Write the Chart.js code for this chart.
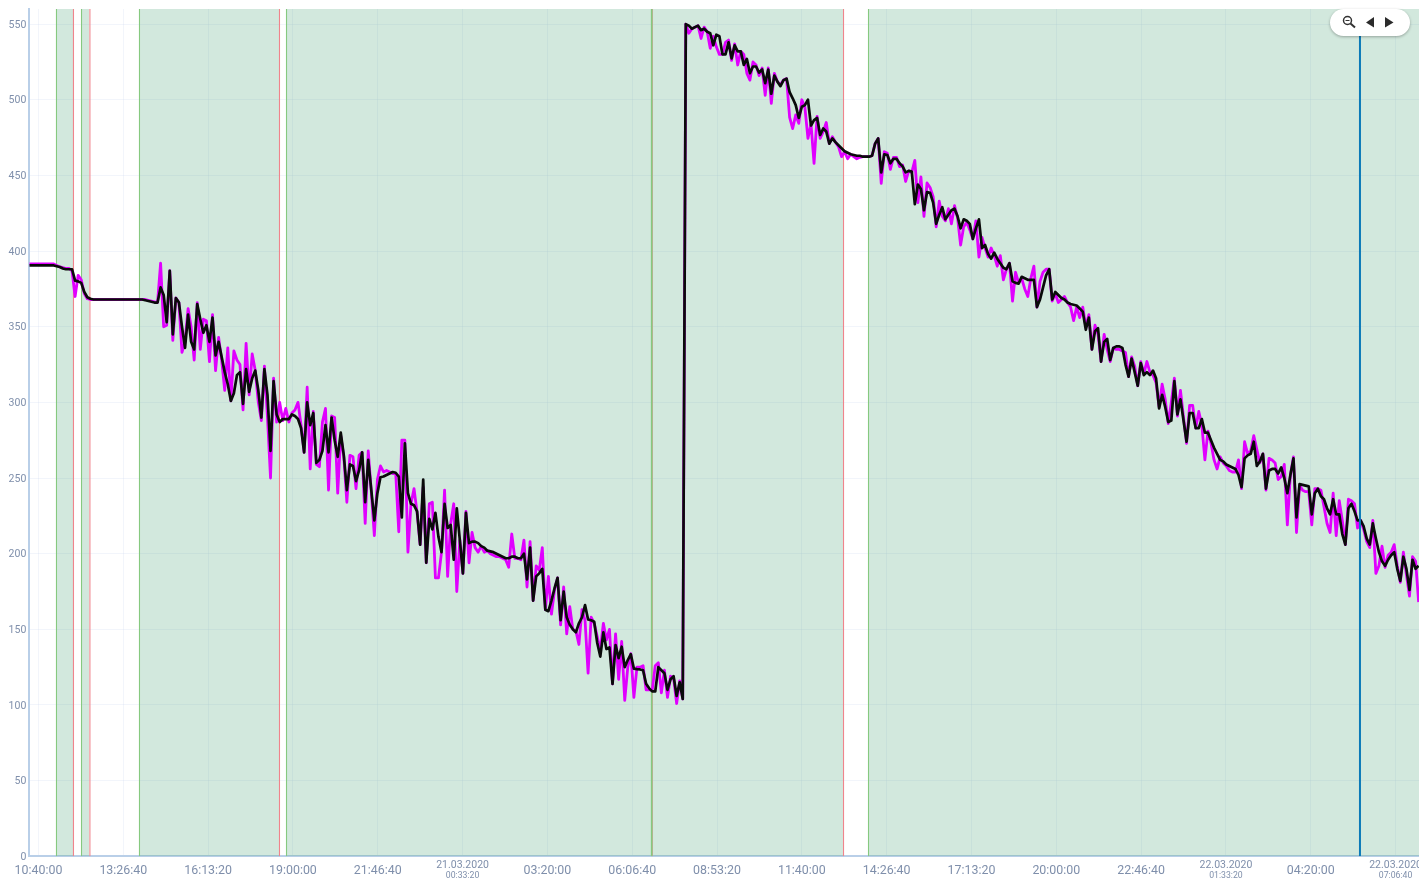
<!DOCTYPE html>
<html lang="en">

<head>
  <meta charset="UTF-8">
  <title>Level over time</title>
  <script src="https://cdnjs.cloudflare.com/ajax/libs/Chart.js/4.4.1/chart.umd.min.js"></script>
  <style>
    * {
      margin: 0;
      padding: 0;
      box-sizing: border-box;
    }

    body {
      background: white;
      overflow: hidden;
    }

    #myChart {
      display: block;
    }

    #zoomBox {
      position: absolute;
      left: 1330px;
      top: 9px;
      width: 80px;
      height: 27px;
      border-radius: 14px;
      background: white;
      box-shadow: 0 1px 3px rgba(0, 0, 0, 0.3);
    }
  </style>
</head>

<body>
  <canvas id="myChart" width="1419" height="881"></canvas>
  <div id="zoomBox">
    <svg width="80" height="27" viewBox="0 0 80 27">
      <circle cx="17.5" cy="11.5" r="4" fill="none" stroke="#333" stroke-width="1.5" />
      <line x1="15.5" y1="11.5" x2="19.5" y2="11.5" stroke="#333" stroke-width="1" />
      <line x1="20.5" y1="14.5" x2="25" y2="18.5" stroke="#333" stroke-width="2" />
      <polygon points="36,13.5 44,8 44,18.5" fill="#2b2b2b" />
      <polygon points="55,8 63.5,13.5 55,18.5" fill="#2b2b2b" />
    </svg>
  </div>

<script>
  // minutes after 10:40:00 on the first day
  var times = [
    -18, -12, -6, 0, 6, 12, 18, 24, 30, 36,
    42, 48, 54, 60, 66, 72, 78, 84, 90, 96,
    102, 108, 114, 120, 126, 132, 138, 144, 150, 156,
    162, 168, 174, 180, 186, 192, 198, 204, 210, 216,
    222, 228, 234, 240, 246, 252, 258, 264, 270, 276,
    282, 288, 294, 300, 306, 312, 318, 324, 330, 336,
    342, 348, 354, 360, 366, 372, 378, 384, 390, 396,
    402, 408, 414, 420, 426, 432, 438, 444, 450, 456,
    462, 468, 474, 480, 486, 492, 498, 504, 510, 516,
    522, 528, 534, 540, 546, 552, 558, 564, 570, 576,
    582, 588, 594, 600, 606, 612, 618, 624, 630, 636,
    642, 648, 654, 660, 666, 672, 678, 684, 690, 696,
    702, 708, 714, 720, 726, 732, 738, 744, 750, 756,
    762, 768, 774, 780, 786, 792, 798, 804, 810, 816,
    822, 828, 834, 840, 846, 852, 858, 864, 870, 876,
    882, 888, 894, 900, 906, 912, 918, 924, 930, 936,
    942, 948, 954, 960, 966, 972, 978, 984, 990, 996,
    1002, 1008, 1014, 1020, 1026, 1032, 1038, 1044, 1050, 1056,
    1062, 1068, 1074, 1080, 1086, 1092, 1098, 1104, 1110, 1116,
    1122, 1128, 1134, 1140, 1146, 1152, 1158, 1164, 1170, 1176,
    1182, 1188, 1194, 1200, 1206, 1212, 1218, 1224, 1230, 1236,
    1242, 1248, 1254, 1260, 1266, 1272, 1278, 1284, 1290, 1296,
    1302, 1308, 1314, 1320, 1326, 1332, 1338, 1344, 1350, 1356,
    1362, 1368, 1374, 1380, 1386, 1392, 1398, 1404, 1410, 1416,
    1422, 1428, 1434, 1440, 1446, 1452, 1458, 1464, 1470, 1476,
    1482, 1488, 1494, 1500, 1506, 1512, 1518, 1524, 1530, 1536,
    1542, 1548, 1554, 1560, 1566, 1572, 1578, 1584, 1590, 1596,
    1602, 1608, 1614, 1620, 1626, 1632, 1638, 1644, 1650, 1656,
    1662, 1668, 1674, 1680, 1686, 1692, 1698, 1704, 1710, 1716,
    1722, 1728, 1734, 1740, 1746, 1752, 1758, 1764, 1770, 1776,
    1782, 1788, 1794, 1800, 1806, 1812, 1818, 1824, 1830, 1836,
    1842, 1848, 1854, 1860, 1866, 1872, 1878, 1884, 1890, 1896,
    1902, 1908, 1914, 1920, 1926, 1932, 1938, 1944, 1950, 1956,
    1962, 1968, 1974, 1980, 1986, 1992, 1998, 2004, 2010, 2016,
    2022, 2028, 2034, 2040, 2046, 2052, 2058, 2064, 2070, 2076,
    2082, 2088, 2094, 2100, 2106, 2112, 2118, 2124, 2130, 2136,
    2142, 2148, 2154, 2160, 2166, 2172, 2178, 2184, 2190, 2196,
    2202, 2208, 2214, 2220, 2226, 2232, 2238, 2244, 2250, 2256,
    2262, 2268, 2274, 2280, 2286, 2292, 2298, 2304, 2310, 2316,
    2322, 2328, 2334, 2340, 2346, 2352, 2358, 2364, 2370, 2376,
    2382, 2388, 2394, 2400, 2406, 2412, 2418, 2424, 2430, 2436,
    2442, 2448, 2454, 2460, 2466, 2472, 2478, 2484, 2490, 2496,
    2502, 2508, 2514, 2520, 2526, 2532, 2538, 2544, 2550, 2556,
    2562, 2568, 2574, 2580, 2586, 2592, 2598, 2604, 2610, 2616,
    2622, 2628, 2634, 2640, 2646, 2652, 2658, 2664, 2670, 2676,
    2682, 2688, 2694, 2700, 2706, 2712
  ];

  var rawValues = [
    391.5, 391.5, 391.5, 391.5, 391.5, 391.5, 391.5, 391.5, 391.5, 390.5,
    389.5, 389, 388.5, 388.5, 387, 370, 384, 381, 372, 368.5,
    368, 368, 368, 368, 368, 368, 368, 368, 368, 368,
    368, 368, 368, 368, 368, 368, 368, 368, 368, 367.5,
    367, 366.5, 366, 392, 350, 351, 387, 341, 369, 366,
    333, 340, 362, 350, 328, 366, 335, 355, 354, 327,
    358, 321, 343, 328, 308, 336, 301, 334, 328, 325,
    295, 339, 305, 332, 321, 300, 288, 324, 290, 250,
    316, 287, 300, 288, 296, 287, 293, 295, 300, 285,
    267, 310, 256, 294, 259, 257.5, 287, 296, 242, 291,
    290, 240, 278, 264, 234, 265, 264, 243, 265, 267,
    220, 268, 241, 212, 249, 258, 254, 255, 254, 253,
    253, 214.5, 275, 275, 201, 233, 243, 227, 206, 244,
    194, 233, 234, 184, 184, 201, 242, 185, 220, 233,
    175, 209, 187, 228, 194, 214, 204, 201, 205, 201,
    202, 200, 199, 198, 198, 197, 196, 191, 213, 197,
    197, 196, 209, 178, 208, 169, 192, 189, 204, 163,
    185, 160, 176, 184, 153, 178, 147, 165, 150, 149,
    140, 163, 156, 121, 158, 154, 145, 136, 154, 143,
    150, 114, 147, 117, 142, 103, 125, 134, 105, 125,
    125, 126, 110, 110, 110, 126, 128, 108, 123, 105,
    119, 118, 101, 116, 104, 550, 544, 547, 548, 549,
    540.5, 548, 545, 534, 542, 535, 530, 530, 538, 539.5,
    526, 537, 523, 532, 530, 517.5, 513, 525, 523, 516,
    521, 503, 521, 497.6, 517.5, 512, 510, 513, 514, 488.4,
    481, 490, 484.4, 500, 495, 474.5, 484, 458, 489, 474.5,
    479, 485, 471, 475.6, 472, 469, 462.4, 465.7, 461, 464,
    462.4, 461, 462, 462.4, 462.4, 462.4, 463, 471, 474.5, 444.7,
    465.7, 464.6, 454, 462, 462, 455.8, 456.9, 446, 453, 452,
    460, 432, 449, 423, 445, 442, 436, 416, 433, 423,
    420, 428, 418, 430, 422, 404, 416, 419, 414, 408,
    420, 396, 409, 402, 396, 402, 397, 390, 397, 381,
    388, 392, 367, 386, 379, 382, 375, 370, 382, 390,
    363, 380, 386, 388, 388, 367, 372, 366, 368, 370,
    366, 363, 354, 363, 356, 363, 350, 358, 335, 351,
    345, 327, 345, 335, 327, 336, 335, 335, 334, 333,
    317, 330, 324, 311, 327, 319, 327, 320, 318, 313,
    297, 312, 302, 286, 300, 316, 291, 308, 290, 273,
    298, 298, 283, 294, 285, 262, 281, 273, 262, 256,
    264, 260, 258, 255, 254, 254, 262, 243, 274, 266,
    268, 278, 269, 260, 266, 242, 263, 262, 260, 249,
    251, 259, 219, 252, 264, 214, 245, 242, 241, 241,
    219, 243, 243, 242, 231, 220, 214, 240, 212, 235,
    222, 206, 236, 235, 233, 217, 222, 216, 208, 204,
    222, 187, 192, 205, 191, 199, 201, 206, 192, 181,
    201, 186, 172, 198, 195, 168
  ];

  var smoothValues = [
    390.5, 390.5, 390.5, 390.5, 390.5, 390.5, 390.5, 390.5, 390.5, 390,
    389.5, 388.5, 388, 388, 388, 380.5, 380, 379, 373, 369.5,
    368.5, 368, 368, 368, 368, 368, 368, 368, 368, 368,
    368, 368, 368, 368, 368, 368, 368, 368, 367.5, 367,
    366.5, 366, 366, 376, 371, 353, 387, 345, 369, 366,
    350, 336, 358, 340, 335, 365, 355, 346, 351, 340,
    356, 331, 340, 330, 320, 312, 301, 306, 318, 320,
    299, 322, 307, 316, 321, 308, 290, 322, 305, 268,
    314, 292, 287, 289, 289, 289, 292, 291, 289, 283,
    267, 300, 285, 293, 260, 262, 268, 285, 267, 290,
    275, 264, 280, 265, 242, 259, 258, 248, 255, 267,
    234, 262, 242, 222, 240, 250.5, 251, 252, 253, 254,
    253.5, 251, 224, 273, 240, 233, 232, 228, 206, 249,
    194, 223, 216, 227, 211, 201, 233, 217, 219, 196,
    230, 209, 187, 227, 207, 208, 208, 207, 205, 204,
    202, 201.5, 201, 200, 199, 198, 197, 197, 198, 198,
    197, 197, 200, 183, 204, 169, 185, 187, 190, 163,
    162, 169, 177, 184, 156, 175, 158, 153, 150, 148,
    154, 158, 166, 156.5, 156, 155, 141, 132, 148, 137,
    138, 114, 139.6, 131, 138.5, 125, 129.7, 133.6, 124, 123.7,
    123.5, 123, 114, 111, 109, 109, 125, 123, 121, 110,
    117, 119, 106, 115, 104, 550, 549, 547, 548, 549,
    546, 547, 545, 544, 536, 543, 542, 530, 530, 538,
    527.4, 536, 532, 532, 523, 527, 517.5, 522, 522, 518,
    520, 511, 520, 504, 516, 512, 509, 513, 514, 505,
    501, 496.5, 488, 495.4, 496.5, 500, 483, 486.6, 488, 476.7,
    481, 479, 471, 474.5, 472, 470, 468, 466, 465, 464,
    463.5, 463, 463, 462.4, 462.4, 462.4, 463, 471, 474.5, 452,
    464, 463.5, 458, 461, 461, 458, 456, 452, 453, 452.5,
    431, 444, 441, 427, 439, 438.5, 432, 418, 424, 429,
    421, 424, 427, 428, 423, 415, 421, 420, 418, 408,
    415, 421, 402, 404, 398, 395, 399, 395, 392, 389,
    388, 392, 380, 379, 378.5, 383, 382, 381, 381, 381,
    363, 368, 376, 384, 388, 368, 373, 371, 369, 368,
    366, 365, 364.5, 364, 362, 360, 348, 356, 335, 347,
    349, 327, 340, 342, 328, 336, 337, 337, 336, 325,
    317, 329, 320, 311, 326, 318, 320, 318, 321, 316,
    296, 305, 297, 287, 288, 314, 292, 302, 288, 274,
    293, 293, 283, 283, 289, 280, 280, 275, 270, 266,
    262, 261, 259, 258, 257, 256, 252, 244, 263, 265,
    266, 274, 258, 261, 266, 243, 255, 256, 256, 253,
    257, 250, 240, 252, 263, 224, 246, 245.5, 245, 244.5,
    226, 240, 243, 238, 236, 230, 226, 236, 226, 226,
    213, 206, 230, 233, 228, 222, 222, 218, 210, 206,
    220, 210, 201, 195, 192, 196, 199, 201, 190, 182,
    198, 190, 176, 196, 190, 192
  ];

  // shaded periods, minutes
  var bandStarts = [35.4, 84.6, 198.5, 487.4, 1631];
  var bandEnds = [68.8, 99.6, 473.6, 1581.9, 2730];

  // thin event lines, minutes
  var redMarks = [68.8, 101.1, 473.6, 1206, 1581.9];
  var greenMarks = [35.4, 84.6, 198.5, 487.4, 1205, 1631];
  var cursorTime = [2596.7];

  var tickMinutes = [0, 166.667, 333.333, 500, 666.667, 833.333, 1000, 1166.667, 1333.333, 1500, 1666.667, 1833.333, 2000, 2166.667, 2333.333, 2500, 2666.667];
  var tickLabels = ["10:40:00", "13:26:40", "16:13:20", "19:00:00", "21:46:40", "21.03.2020", "03:20:00", "06:06:40", "08:53:20", "11:40:00", "14:26:40", "17:13:20", "20:00:00", "22:46:40", "22.03.2020", "04:20:00", "22.03.2020"];
  var tickSubLabels = ["", "", "", "", "", "00:33:20", "", "", "", "", "", "", "", "", "01:33:20", "", "07:06:40"];

  var xMin = -18;
  var xMax = 2712.7;
  var yMax = 560;
  var tickColor = "#7f8fab";
  var axisColor = "#b9cfe8";
  var gridColor = "rgba(190, 205, 235, 0.2)";

  function verticalLine(time, color, width, order) {
    return {
      data: [{ x: time, y: 0 }, { x: time, y: yMax }],
      borderColor: color,
      borderWidth: width,
      pointRadius: 0,
      order: order
    };
  }

  var datasets = [];

  for (let i = 0; i < bandStarts.length; i++) {
    datasets.push({
      data: [{ x: bandStarts[i], y: yMax }, { x: bandEnds[i], y: yMax }],
      borderWidth: 0,
      pointRadius: 0,
      fill: "origin",
      backgroundColor: "rgba(75, 163, 119, 0.25)",
      order: 5
    });
  }
  redMarks.forEach(t => datasets.push(verticalLine(t, "#f0848c", 1.1, 4)));
  greenMarks.forEach(t => datasets.push(verticalLine(t, "#86c97f", t == 1205 ? 1.7 : 1.1, 3)));

  datasets.push({
    data: times.map((t, i) => ({ x: t, y: rawValues[i] })),
    borderColor: "#e000ff",
    borderWidth: 2.8,
    borderJoinStyle: "round",
    pointRadius: 0,
    order: 2
  });
  datasets.push({
    data: times.map((t, i) => ({ x: t, y: smoothValues[i] })),
    borderColor: "#0a0a0a",
    borderWidth: 2.7,
    borderJoinStyle: "round",
    pointRadius: 0,
    order: 1
  });
  datasets.push(verticalLine(cursorTime[0], "#0b7ab8", 2, 0));

  // second line of the date ticks, smaller than the date itself
  var subLabelPlugin = {
    id: "subLabels",
    afterDraw(chart) {
      var ctx = chart.ctx;
      var xScale = chart.scales.x;
      ctx.save();
      ctx.font = "8.7px Roboto";
      ctx.fillStyle = tickColor;
      ctx.textAlign = "center";
      ctx.textBaseline = "middle";
      tickMinutes.forEach((t, i) => {
        if (tickSubLabels[i]) {
          ctx.fillText(tickSubLabels[i], xScale.getPixelForValue(t), 876);
        }
      });
      ctx.restore();
    }
  };

  var myChart = new Chart("myChart", {
    type: "line",
    data: { datasets: datasets },
    plugins: [subLabelPlugin],
    options: {
      responsive: false,
      animation: false,
      parsing: false,
      normalized: true,
      layout: { padding: { top: 9, left: 0, right: 0, bottom: 0 } },
      plugins: {
        legend: { display: false },
        tooltip: { enabled: false }
      },
      scales: {
        x: {
          type: "linear",
          min: xMin,
          max: xMax,
          afterBuildTicks(axis) {
            axis.ticks = tickMinutes.map(t => ({ value: t }));
          },
          afterFit(axis) {
            axis.height = 24.7;
            axis.paddingLeft = 0;
            axis.paddingRight = 0;
          },
          grid: { color: gridColor, drawTicks: false },
          border: { color: axisColor, width: 2 },
          ticks: {
            autoSkip: false,
            maxRotation: 0,
            padding: 3.5,
            color: tickColor,
            font: function (ctx) {
              var sub = tickSubLabels[ctx.index];
              return sub ? { family: "Roboto", size: 10.5, lineHeight: 1 } : { family: "Roboto", size: 12.4, lineHeight: "7.5px" };
            },
            callback: function (value, index) {
              return tickSubLabels[index] ? tickLabels[index] : ["", tickLabels[index]];
            }
          }
        },
        y: {
          min: 0,
          max: yMax,
          afterFit(axis) {
            axis.width = 29.3;
            axis.paddingTop = 0;
            axis.paddingBottom = 0;
          },
          grid: { color: gridColor, drawTicks: false },
          border: { color: axisColor, width: 2 },
          ticks: {
            stepSize: 50,
            includeBounds: false,
            padding: 3,
            labelOffset: 1,
            color: tickColor,
            font: { family: "Roboto", size: 10.5 }
          }
        }
      }
    }
  });
</script>
</body>

</html>
